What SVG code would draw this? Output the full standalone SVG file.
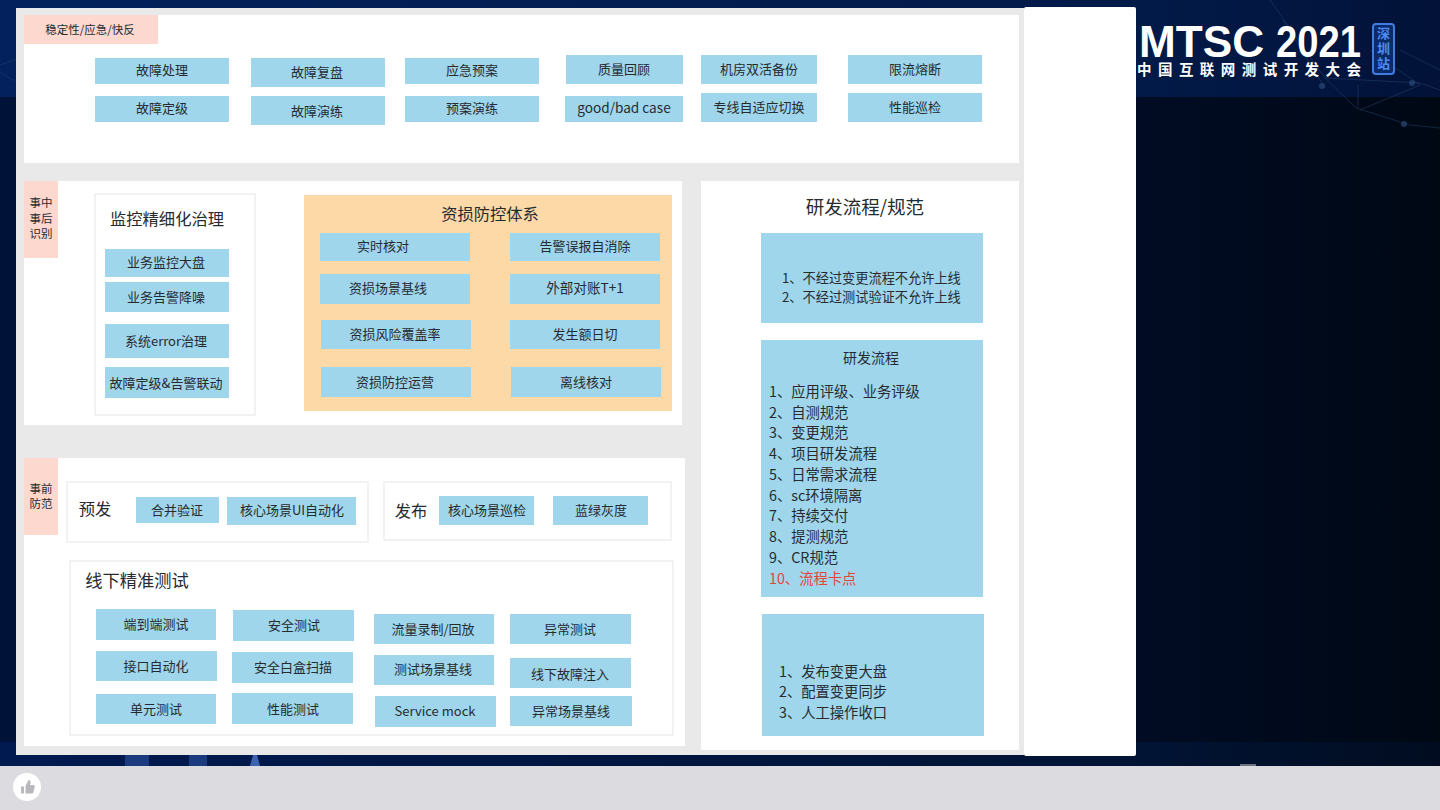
<svg xmlns="http://www.w3.org/2000/svg" width="1440" height="810" viewBox="0 0 1440 810">
<style>
text{font-family:"Noto Sans CJK SC","Noto Sans",sans-serif;fill:#262b30;text-anchor:middle;font-size:13px}
.b{fill:#9fd6ec}
.w{fill:#fff}
.p{fill:#fdd8cf}
.o{fill:#fff;stroke:#eeeeee;stroke-width:1.5}
.l{text-anchor:start;font-size:14.3px}
.m{text-anchor:start;font-size:13.2px}
.h{font-size:16.3px}
.s{font-size:11.5px}
.wide{font-size:13.600px}
.logo{fill:#fff;font-family:"Liberation Sans",sans-serif;font-weight:700;font-size:44px}
.sub{fill:#fff;font-family:"Noto Sans CJK SC",sans-serif;font-size:14.5px;font-weight:700}
.net{stroke:#2a4a78;stroke-width:1;fill:none;opacity:.45}
.dot{fill:#2a4a78;opacity:.7}
</style>
<defs>
<linearGradient id="top" x1="0" y1="0" x2="1" y2="0"><stop offset="0" stop-color="#03215c"/><stop offset=".8" stop-color="#021a48"/><stop offset="1" stop-color="#021238"/></linearGradient>
<linearGradient id="mid" x1="0" y1="0" x2="1" y2="0"><stop offset="0" stop-color="#011238"/><stop offset=".79" stop-color="#010c24"/><stop offset="1" stop-color="#000814"/></linearGradient>
<linearGradient id="bot" x1="0" y1="0" x2="1" y2="0"><stop offset="0" stop-color="#011a50"/><stop offset=".79" stop-color="#011434"/><stop offset="1" stop-color="#010c20"/></linearGradient>
</defs>
<rect width="1440" height="810" fill="#dcdce0"/>
<rect width="1440" height="98" fill="url(#top)"/>
<rect y="97" width="1440" height="645" fill="url(#mid)"/>
<rect y="742" width="1440" height="24" fill="url(#bot)"/>
<path class="net" d="M1270 0L1325 78L1356 108L1410 125L1440 128M1325 78L1420 83L1440 90M1360 110L1420 85L1370 50M1400 50L1440 70M1283 20L1325 88M1358 85V108M0 65L20 58M0 72L20 85"/>
<circle class="dot" cx="1322" cy="86" r="3"/><circle class="dot" cx="1412" cy="83" r="3"/><circle class="dot" cx="1404" cy="124" r="3"/>
<path d="M125 755h24v11h-24zM189 755h18v11h-18z" fill="#24478f" opacity=".75"/><path d="M250 766l3-11h4l3 11z" fill="#3d62b0"/>
<rect x="1240" y="764" width="16" height="2" fill="#6d7080"/>

<g id="slide">
<rect x="16" y="8" width="1008" height="747" fill="#e9e9e9"/>
<rect x="1024" y="7" width="112" height="749" rx="2" fill="#fff"/>
<rect class="w" x="24" y="15" width="995" height="148"/>
<rect class="w" x="24" y="181" width="658" height="244"/>
<rect class="w" x="24" y="458" width="661" height="288"/>
<rect class="w" x="701" y="181" width="318" height="569"/>
</g>

<g id="section-stability">
<rect class="p" x="24" y="15" width="134" height="29"/><text class="s" x="90" y="34">稳定性/应急/快反</text>
<rect class="b" x="95" y="58" width="134" height="26"/><text x="162" y="75">故障处理</text>
<rect class="b" x="95" y="96" width="134" height="26"/><text x="162" y="113">故障定级</text>
<rect class="b" x="251" y="58" width="134" height="29"/><text x="317" y="77">故障复盘</text>
<rect class="b" x="251" y="96" width="134" height="29"/><text x="317" y="116">故障演练</text>
<rect class="b" x="405" y="58" width="134" height="26"/><text x="472" y="75">应急预案</text>
<rect class="b" x="405" y="96" width="134" height="26"/><text x="472" y="113">预案演练</text>
<rect class="b" x="566" y="55" width="117" height="29"/><text x="624" y="74">质量回顾</text>
<rect class="b" x="565" y="96" width="118" height="26"/><text class="wide" x="624" y="113">good/bad case</text>
<rect class="b" x="701" y="55" width="116" height="29"/><text x="759" y="74">机房双活备份</text>
<rect class="b" x="701" y="93" width="116" height="29"/><text x="759" y="112">专线自适应切换</text>
<rect class="b" x="848" y="55" width="134" height="29"/><text x="915" y="74">限流熔断</text>
<rect class="b" x="848" y="93" width="134" height="29"/><text x="915" y="112">性能巡检</text>
</g>

<g id="section-monitor">
<rect class="p" x="24" y="181" width="34" height="77"/><text class="s" x="41" y="207">事中</text><text class="s" x="41" y="223">事后</text><text class="s" x="41" y="238">识别</text>
<rect class="o" x="95" y="194" width="160" height="221"/><text class="h" x="167" y="225">监控精细化治理</text>
<rect class="b" x="105" y="249" width="124" height="28"/><text x="166" y="267">业务监控大盘</text>
<rect class="b" x="105" y="282" width="124" height="30"/><text x="166" y="302">业务告警降噪</text>
<rect class="b" x="105" y="324" width="124" height="34"/><text x="166" y="346">系统error治理</text>
<rect class="b" x="105" y="367" width="124" height="31"/><text x="166" y="388">故障定级&amp;告警联动</text>
</g>

<g id="section-loss">
<rect x="304" y="195" width="368" height="216" fill="#fdd9a8"/>
<text class="h" x="490" y="220">资损防控体系</text>
<rect class="b" x="320" y="233" width="150" height="28"/><text x="383" y="251">实时核对</text>
<rect class="b" x="510" y="233" width="150" height="28"/><text x="585" y="251">告警误报自消除</text>
<rect class="b" x="320" y="274" width="150" height="30"/><text x="388" y="293">资损场景基线</text>
<rect class="b" x="510" y="274" width="150" height="30"/><text class="wide" x="585" y="293">外部对账T+1</text>
<rect class="b" x="321" y="320" width="150" height="29"/><text x="395" y="339">资损风险覆盖率</text>
<rect class="b" x="510" y="320" width="150" height="29"/><text x="585" y="339">发生额日切</text>
<rect class="b" x="321" y="367" width="150" height="30"/><text x="395" y="387">资损防控运营</text>
<rect class="b" x="511" y="367" width="150" height="30"/><text x="586" y="387">离线核对</text>
</g>

<g id="section-prevent">
<rect class="p" x="24" y="458" width="34" height="77"/><text class="s" x="41" y="493">事前</text><text class="s" x="41" y="508">防范</text>
<rect class="o" x="67" y="482" width="301" height="60"/><text class="h" x="95" y="515">预发</text>
<rect class="b" x="136" y="497" width="83" height="26"/><text x="177" y="515">合并验证</text>
<rect class="b" x="227" y="497" width="129" height="28"/><text x="292" y="515">核心场景UI自动化</text>
<rect class="o" x="384" y="482" width="287" height="58"/><text class="h" x="411" y="517">发布</text>
<rect class="b" x="439" y="496" width="95" height="29"/><text x="487" y="515">核心场景巡检</text>
<rect class="b" x="553" y="496" width="95" height="29"/><text x="601" y="515">蓝绿灰度</text>
</g>

<g id="section-offline">
<rect class="o" x="70" y="561" width="603" height="174"/><text class="h" x="137" y="587" style="font-size:17.300px">线下精准测试</text>
<rect class="b" x="96" y="609" width="120" height="31"/><text x="156" y="629">端到端测试</text>
<rect class="b" x="96" y="651" width="121" height="30"/><text x="156" y="671">接口自动化</text>
<rect class="b" x="96" y="694" width="120" height="30"/><text x="156" y="714">单元测试</text>
<rect class="b" x="233" y="610" width="121" height="31"/><text x="294" y="630">安全测试</text>
<rect class="b" x="232" y="652" width="121" height="31"/><text x="293" y="672">安全白盒扫描</text>
<rect class="b" x="232" y="693" width="121" height="31"/><text x="293" y="714">性能测试</text>
<rect class="b" x="374" y="614" width="120" height="30"/><text x="433" y="634">流量录制/回放</text>
<rect class="b" x="374" y="655" width="120" height="30"/><text x="433" y="674">测试场景基线</text>
<rect class="b" x="375" y="696" width="121" height="31"/><text x="435" y="716">Service mock</text>
<rect class="b" x="510" y="614" width="121" height="30"/><text x="570" y="634">异常测试</text>
<rect class="b" x="510" y="658" width="121" height="30"/><text x="570" y="679">线下故障注入</text>
<rect class="b" x="510" y="696" width="122" height="30"/><text x="571" y="716">异常场景基线</text>
</g>

<g id="section-process">
<text class="h" x="865" y="214" style="font-size:18.500px">研发流程/规范</text>
<rect class="b" x="761" y="233" width="222" height="90"/>
<text class="m" x="782" y="283">1、不经过变更流程不允许上线</text>
<text class="m" x="782" y="302">2、不经过测试验证不允许上线</text>
<rect class="b" x="761" y="340" width="222" height="257"/>
<text x="871" y="363" style="font-size:14px">研发流程</text>
<text class="l" x="769" y="397">1、应用评级、业务评级</text>
<text class="l" x="769" y="418">2、自测规范</text>
<text class="l" x="769" y="438">3、变更规范</text>
<text class="l" x="769" y="459">4、项目研发流程</text>
<text class="l" x="769" y="480">5、日常需求流程</text>
<text class="l" x="769" y="501">6、sc环境隔离</text>
<text class="l" x="769" y="521">7、持续交付</text>
<text class="l" x="769" y="542">8、提测规范</text>
<text class="l" x="769" y="563">9、CR规范</text>
<text class="l" x="769" y="584" style="fill:#e8433a">10、流程卡点</text>
<rect class="b" x="762" y="614" width="222" height="122"/>
<text class="l" x="779" y="677">1、发布变更大盘</text>
<text class="l" x="779" y="697">2、配置变更同步</text>
<text class="l" x="779" y="718">3、人工操作收口</text>
</g>

<g id="logo">
<text style="text-anchor:start"><tspan class="logo" x="1139" y="57" textLength="125" lengthAdjust="spacingAndGlyphs">MTSC</tspan><tspan class="logo" x="1276" y="57" textLength="85" lengthAdjust="spacingAndGlyphs">2021</tspan><tspan class="sub" x="1137" y="75" textLength="224">中国互联网测试开发大会</tspan></text>
<rect x="1373" y="24" width="21" height="50" rx="3" fill="#0a2a6a" stroke="#3f7be0" stroke-width="2"/>
<text x="1383.500" y="49" writing-mode="vertical-rl" style="fill:#4f8cf0;font-size:13px;font-weight:700;letter-spacing:2px">深圳站</text>
</g>

<g id="like">
<circle cx="27" cy="787" r="14" fill="#fff"/>
<path d="M25.500 786l3-6c2 0 2.500 1.500 2 3l-.5 2h3.500c1 0 1.500 1 1.200 2l-1.200 5c-.2 1-1 1.500-2 1.500h-6zM21 786.500h3v7h-3z" fill="#b9b9bd"/>
</g>
</svg>
